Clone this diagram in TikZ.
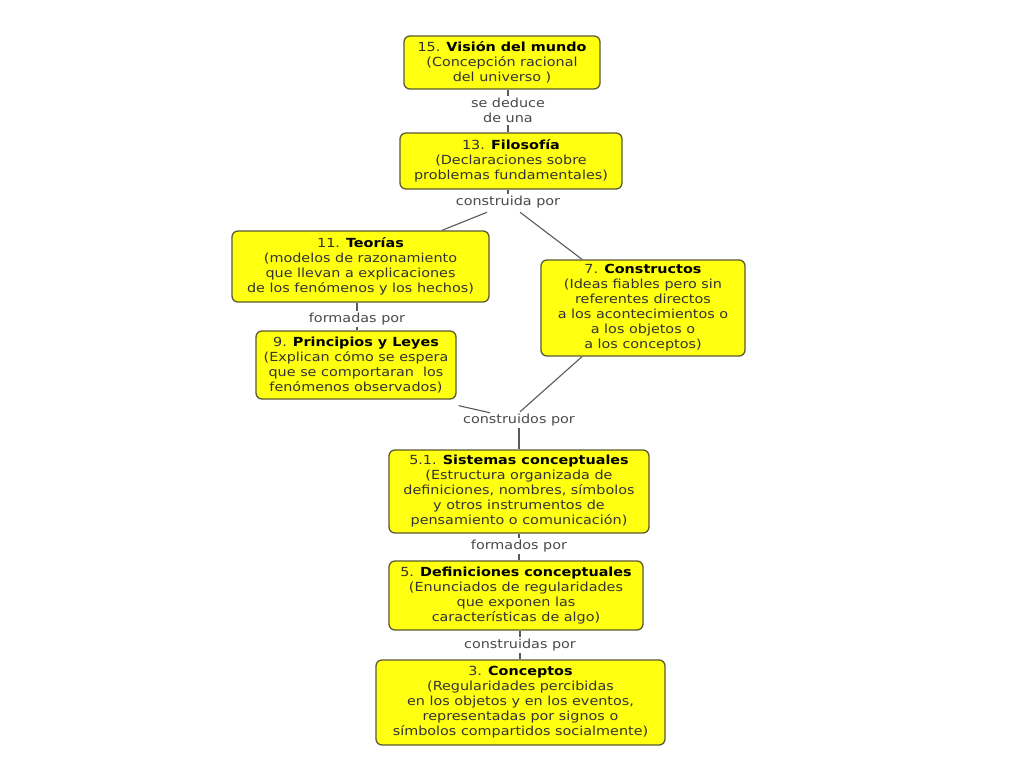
\documentclass[tikz,border=0pt]{standalone}
\usepackage{fontspec}
\setmainfont{DejaVu Sans}[FakeStretch=1.15]
\usetikzlibrary{calc}
\definecolor{boxfill}{HTML}{FFFF10}
\definecolor{boxline}{HTML}{5C5A34}
\definecolor{txt}{HTML}{333333}
\definecolor{lbl}{HTML}{4A4A4A}
\definecolor{conn}{HTML}{5A5A5A}
\tikzset{
  box/.style={draw=boxline, line width=1.3pt, fill=boxfill, rounded corners=6pt,
    align=center, text=txt, inner sep=0pt, font=\fontsize{12.5}{15}\selectfont},
  lab/.style={align=center, text=lbl, inner sep=2pt, font=\fontsize{12.5}{15}\selectfont},
  conn/.style={draw=conn, line width=1.1pt}
}
\begin{document}
\begin{tikzpicture}[x=1pt,y=-1pt]
\useasboundingbox[fill=white] (0,0) rectangle (1024,768);
% boxes
\node[box, minimum width=196pt, minimum height=53pt] (n15) at (502,62.5)
  {15. \textbf{\color{black}Visión del mundo}\\(Concepción racional\\del universo )};
\node[box, minimum width=222pt, minimum height=56pt] (n13) at (511,161)
  {13. \textbf{\color{black}Filosofía}\\(Declaraciones sobre\\problemas fundamentales)};
\node[box, minimum width=257pt, minimum height=71pt] (n11) at (360.5,266.5)
  {11. \textbf{\color{black}Teorías}\\(modelos de razonamiento\\que llevan a explicaciones\\de los fenómenos y los hechos)};
\node[box, minimum width=200pt, minimum height=68pt] (n9) at (356,365)
  {9. \textbf{\color{black}Principios y Leyes}\\(Explican cómo se espera\\que se comportaran\ \ los\\fenómenos observados)};
\node[box, minimum width=204pt, minimum height=96pt] (n7) at (643,308)
  {7. \textbf{\color{black}Constructos}\\(Ideas fiables pero sin\\referentes directos\\a los acontecimientos o\\a los objetos o\\a los conceptos)};
\node[box, minimum width=260pt, minimum height=83pt] (n51) at (519,491.5)
  {5.1. \textbf{\color{black}Sistemas conceptuales}\\(Estructura organizada de\\definiciones, nombres, símbolos\\y otros instrumentos de\\pensamiento o comunicación)};
\node[box, minimum width=254pt, minimum height=69pt] (n5) at (516,595.5)
  {5. \textbf{\color{black}Definiciones conceptuales}\\(Enunciados de regularidades\\que exponen las\\características de algo)};
\node[box, minimum width=289pt, minimum height=85pt] (n3) at (520.5,702.5)
  {3. \textbf{\color{black}Conceptos}\\(Regularidades percibidas\\en los objetos y en los eventos,\\representadas por signos o\\símbolos compartidos socialmente)};
% labels
\node[lab] (l1) at (508,110.5) {se deduce\\de una};
\node[lab] (l2) at (508,202) {construida por};
\node[lab] (l3) at (357,319) {formadas por};
\node[lab] (l4) at (519,420) {construidos por};
\node[lab] (l5) at (519,546) {formados por};
\node[lab] (l6) at (520,645) {construidas por};
% connectors
\draw[conn] (n15.south -| l1) -- (l1.north);
\draw[conn] (l1.south) -- (l1.south |- n13.north);
\draw[conn] (n13.south -| l2) -- (l2.north);
\draw[conn] ($(l2.south)+(-21,2)$) -- ($(n11.north)+(81.5,0)$);
\draw[conn] ($(l2.south)+(12,2)$) -- ($(n7.north)+(-61,0)$);
\draw[conn] (n11.south -| l3) -- (l3.north);
\draw[conn] (l3.south) -- (l3.south |- n9.north);
\draw[conn] ($(n9.south east)+(2,6)$) -- ($(l4.north)+(-29,1)$);
\draw[conn] ($(n7.south)+(-61,0)$) -- ($(l4.north)+(1,0)$);
\draw[conn] (l4.south) -- (l4.south |- n51.north);
\draw[conn] (n51.south -| l5) -- (l5.north);
\draw[conn] (l5.south) -- (l5.south |- n5.north);
\draw[conn] (n5.south -| l6) -- (l6.north);
\draw[conn] (l6.south) -- (l6.south |- n3.north);
\end{tikzpicture}
\end{document}
